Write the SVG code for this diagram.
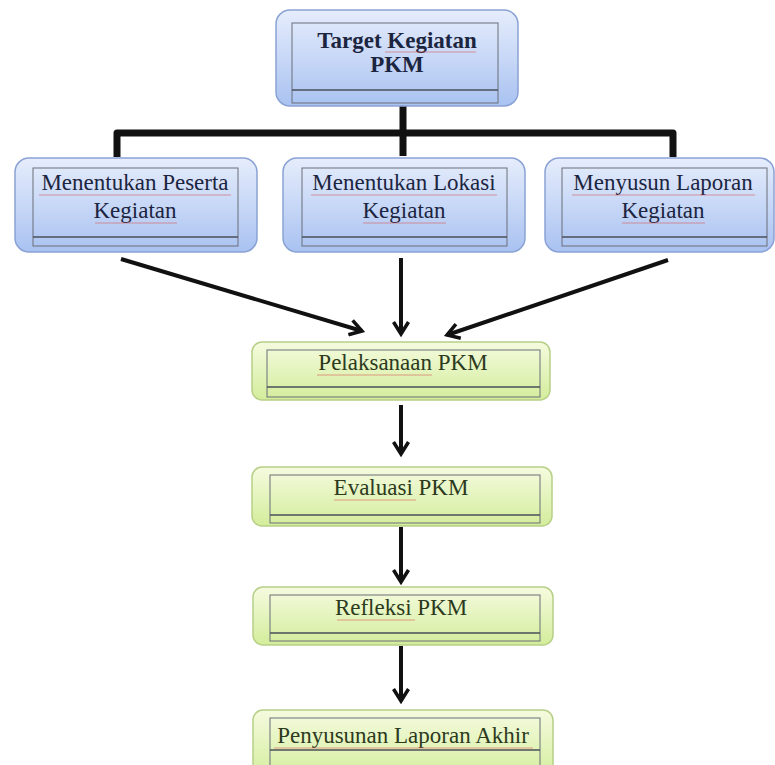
<svg xmlns="http://www.w3.org/2000/svg" width="775" height="765" viewBox="0 0 775 765">
<style>
.blue{fill:url(#gb);stroke:#8aa2d4;stroke-width:1.5}
.green{fill:url(#gg);stroke:#b7cf86;stroke-width:1.5}
.inner{fill:none;stroke:#6a6f78;stroke-width:1}
.sep{stroke:#4a4f58;stroke-width:1.5}
.tb{font-family:"Liberation Serif","Times New Roman",serif;font-size:23px;fill:#1c2540;text-anchor:middle}
.tg{font-family:"Liberation Serif","Times New Roman",serif;font-size:23px;fill:#2c3a1e;text-anchor:middle}
.bold{font-weight:bold}
.sq{stroke:#d9534f;stroke-width:1;opacity:.55}
.bracket{fill:none;stroke:#111;stroke-width:7;stroke-linejoin:round}
.arr{fill:none;stroke:#111;stroke-width:4;marker-end:url(#ah)}
</style>
<defs>
<linearGradient id="gb" x1="0" y1="0" x2="0" y2="1"><stop offset="0" stop-color="#e6edfc"/><stop offset="1" stop-color="#a9c2f1"/></linearGradient>
<linearGradient id="gg" x1="0" y1="0" x2="0" y2="1"><stop offset="0" stop-color="#f5fbdf"/><stop offset="1" stop-color="#d3ed9b"/></linearGradient>
<marker id="ah" viewBox="0 0 18 18" refX="15" refY="9" markerWidth="18" markerHeight="18" markerUnits="userSpaceOnUse" orient="auto"><path d="M3,1.5 L15,9 L3,16.5" fill="none" stroke="#111" stroke-width="3.5" stroke-linejoin="miter"/></marker>
</defs>
<rect width="775" height="765" fill="#fff"/>
<g id="connectors">
<path class="bracket" d="M403,106 V156 M117,157 V133 H673 V157"/>
<path class="arr" d="M121,259 L362,331"/>
<path class="arr" d="M401,258 V334"/>
<path class="arr" d="M668,260 L447,335"/>
<path class="arr" d="M401,405 V454"/>
<path class="arr" d="M401,527 V582"/>
<path class="arr" d="M401,646 V701"/>
</g>
<g id="n-target">
<rect class="blue" x="276" y="10" width="242" height="96" rx="14"/>
<rect class="inner" x="292" y="23" width="206" height="80"/>
<line class="sep" x1="292" y1="90" x2="498" y2="90"/>
<text class="tb bold" x="397" y="48">Target Kegiatan</text>
<text class="tb bold" x="397" y="72">PKM</text>
<line class="sq" x1="385" y1="52" x2="476" y2="52"/>
</g>
<g id="n-peserta">
<rect class="blue" x="15" y="158" width="242" height="94" rx="14"/>
<rect class="inner" x="33" y="168" width="205" height="78"/>
<line class="sep" x1="33" y1="237" x2="238" y2="237"/>
<text class="tb" x="135" y="190">Menentukan Peserta</text>
<text class="tb" x="135" y="218">Kegiatan</text>
<line class="sq" x1="39" y1="195" x2="231" y2="195"/>
<line class="sq" x1="95" y1="223" x2="177" y2="223"/>
</g>
<g id="n-lokasi">
<rect class="blue" x="283" y="158" width="242" height="94" rx="14"/>
<rect class="inner" x="302" y="168" width="205" height="78"/>
<line class="sep" x1="302" y1="237" x2="507" y2="237"/>
<text class="tb" x="404" y="190">Menentukan Lokasi</text>
<text class="tb" x="404" y="218">Kegiatan</text>
<line class="sq" x1="311" y1="195" x2="497" y2="195"/>
<line class="sq" x1="363" y1="223" x2="446" y2="223"/>
</g>
<g id="n-laporan">
<rect class="blue" x="545" y="158" width="229" height="94" rx="14"/>
<rect class="inner" x="562" y="168" width="205" height="78"/>
<line class="sep" x1="562" y1="237" x2="767" y2="237"/>
<text class="tb" x="663" y="190">Menyusun Laporan</text>
<text class="tb" x="663" y="218">Kegiatan</text>
<line class="sq" x1="572" y1="195" x2="755" y2="195"/>
<line class="sq" x1="622" y1="223" x2="705" y2="223"/>
</g>
<g id="n-pelaksanaan">
<rect class="green" x="252" y="342" width="298" height="58" rx="10"/>
<rect class="inner" x="267" y="350" width="273" height="47"/>
<line class="sep" x1="267" y1="387" x2="540" y2="387"/>
<text class="tg" x="403" y="370">Pelaksanaan PKM</text>
<line class="sq" x1="317" y1="375" x2="432" y2="375"/>
</g>
<g id="n-evaluasi">
<rect class="green" x="252" y="467" width="300" height="59" rx="10"/>
<rect class="inner" x="270" y="475" width="270" height="48"/>
<line class="sep" x1="270" y1="515" x2="540" y2="515"/>
<text class="tg" x="401" y="495">Evaluasi PKM</text>
<line class="sq" x1="334" y1="500" x2="416" y2="500"/>
</g>
<g id="n-refleksi">
<rect class="green" x="253" y="587" width="300" height="58" rx="10"/>
<rect class="inner" x="270" y="595" width="270" height="46"/>
<line class="sep" x1="270" y1="633" x2="540" y2="633"/>
<text class="tg" x="401" y="615">Refleksi PKM</text>
<line class="sq" x1="337" y1="620" x2="415" y2="620"/>
</g>
<g id="n-akhir">
<rect class="green" x="253" y="710" width="300" height="70" rx="10"/>
<rect class="inner" x="270" y="718" width="270" height="50"/>
<line class="sep" x1="270" y1="750" x2="540" y2="750"/>
<text class="tg" x="403" y="743">Penyusunan Laporan Akhir</text>
<line class="sq" x1="274" y1="748" x2="533" y2="748"/>
</g>
</svg>
